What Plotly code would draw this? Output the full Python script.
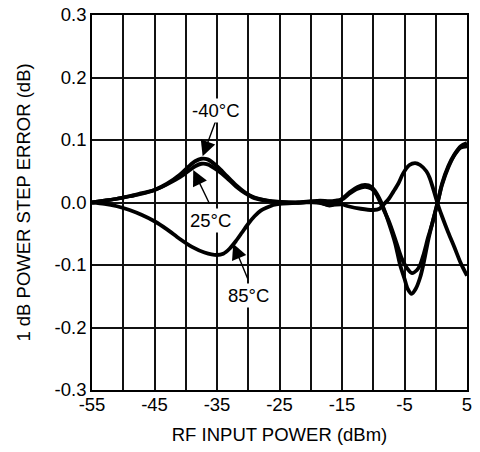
import plotly.graph_objects as go

# ---- data ----
x_m40 = [-55, -53, -51, -49, -47, -45, -43, -41, -39.6, -38.5, -37.5, -36.5, -35, -33.5, -32, -30.5, -29, -27, -25,
         -22, -20, -18.5, -17, -16, -15, -13.7, -12.5, -11.3, -10.3, -9.5, -8.5, -7.5, -6.5, -5.7, -5, -4.5, -3.85,
         -3.2, -2.5, -2, -1.2, -0.6, 0.3, 1, 2, 3, 4, 5]
y_m40 = [0.0, 0.003, 0.006, 0.010, 0.014, 0.020, 0.030, 0.044, 0.057, 0.066, 0.070, 0.069, 0.058, 0.043, 0.028, 0.016,
         0.008, 0.003, 0.001, 0.0, 0.001, 0.0, -0.005, -0.001, 0.006, 0.017, 0.025, 0.028, 0.025, 0.015, -0.005,
         -0.033, -0.065, -0.100, -0.122, -0.138, -0.146, -0.138, -0.120, -0.100, -0.060, -0.035, 0.0, 0.030, 0.058,
         0.077, 0.090, 0.095]

x_25 = [-55, -53, -51, -49, -47, -45, -43, -41, -39.6, -38.5, -37.5, -36.5, -35, -33.5, -32, -30.5, -29, -27, -25,
        -22, -20, -18.5, -17, -16, -15, -13.7, -12.5, -11.3, -10.3, -9.5, -8.5, -7.5, -6.5, -5.5, -4.6, -3.8,
        -3, -2.5, -2, -1.2, -0.6, 0.3, 1, 2, 3, 4, 5]
y_25 = [0.0, 0.003, 0.006, 0.010, 0.015, 0.020, 0.029, 0.040, 0.050, 0.058, 0.062, 0.061, 0.052, 0.040, 0.026, 0.015,
        0.007, 0.003, 0.001, 0.0, 0.002, 0.003, 0.002, 0.003, 0.005, 0.015, 0.022, 0.025, 0.022, 0.013, -0.008,
        -0.030, -0.058, -0.088, -0.105, -0.113, -0.108, -0.100, -0.085, -0.055, -0.035, 0.0, 0.028, 0.056, 0.076,
        0.088, 0.090]

x_85 = [-55, -53, -51, -49, -47, -45, -43, -41, -39, -37, -35, -34, -33, -32, -31, -30, -29, -28, -27, -26, -25,
        -23, -21, -19, -17, -15, -14, -12, -10, -9, -8.4, -7.5, -6.8, -6, -5.2, -4.2, -3.3, -2.5, -1.5, -1, -0.5,
        0, 0.5, 1, 2, 3, 4, 5]
y_85 = [0.0, -0.002, -0.006, -0.012, -0.020, -0.030, -0.043, -0.058, -0.071, -0.080, -0.084, -0.082, -0.074, -0.062,
        -0.048, -0.034, -0.022, -0.013, -0.008, -0.004, -0.002, -0.001, 0.0, 0.0, -0.004, -0.003, -0.006, -0.010,
        -0.012, -0.010, -0.004, 0.006, 0.017, 0.030, 0.047, 0.060, 0.063, 0.060, 0.050, 0.040, 0.025, 0.008,
        -0.008, -0.022, -0.048, -0.072, -0.097, -0.117]

x_ticks = [-55, -45, -35, -25, -15, -5, 5]
y_ticks = [-0.3, -0.2, -0.1, 0.0, 0.1, 0.2, 0.3]

FONT = "Liberation Sans, Arial, Helvetica, sans-serif"
FS = 18.5

fig = go.Figure()
for xs, ys in [(x_85, y_85), (x_25, y_25), (x_m40, y_m40)]:
    fig.add_trace(go.Scatter(x=xs, y=ys, mode="lines",
                             line=dict(color="black", width=3.8, shape="spline", smoothing=0.8),
                             showlegend=False, hoverinfo="skip"))

grid_col = "#111111"
fig.update_xaxes(range=[-55, 5], tickvals=x_ticks, ticktext=[str(v) for v in x_ticks],
                 showgrid=True, gridcolor=grid_col, gridwidth=1.7,
                 minor=dict(tick0=-55, dtick=5, showgrid=True, gridcolor=grid_col, gridwidth=1.7),
                 showline=True, linecolor="black", linewidth=1.7, mirror=True,
                 ticks="", automargin=False, ticklabeloverflow="allow", ticklabelstandoff=-3,
                 zeroline=False, tickfont=dict(family=FONT, size=FS, color="black"),
                 title=dict(text="RF INPUT POWER (dBm)", font=dict(family=FONT, size=FS, color="black"), standoff=14))
fig.update_yaxes(range=[-0.3, 0.3], tickvals=y_ticks, ticktext=[f"{v:.1f}" for v in y_ticks],
                 showgrid=True, gridcolor=grid_col, gridwidth=1.7,
                 showline=True, linecolor="black", linewidth=1.7, mirror=True,
                 ticks="", automargin=False, ticklabeloverflow="allow",
                 zeroline=False, tickfont=dict(family=FONT, size=FS, color="black"),
                 title=dict(text="1 dB POWER STEP ERROR (dB)", font=dict(family=FONT, size=FS, color="black"),
                            standoff=19))

labels = [
    ("-40°C", -35.2, 0.148, -37.3, 0.074, -35.0, 0.136),
    ("25°C", -36.0, -0.028, -38.8, 0.052, -36.1, -0.004),
    ("85°C", -29.9, -0.148, -32.4, -0.066, -30.0, -0.124),
]
for txt, tx, ty, hx, hy, ax_, ay_ in labels:
    fig.add_annotation(x=hx, y=hy, ax=ax_, ay=ay_, axref="x", ayref="y", xref="x", yref="y",
                       text="", showarrow=True, arrowhead=2, arrowsize=2.2, arrowwidth=1.4, arrowcolor="black")
    fig.add_annotation(x=tx, y=ty, xref="x", yref="y", text=txt, showarrow=False,
                       font=dict(family=FONT, size=FS, color="black"), bgcolor="white", borderpad=1)

fig.update_layout(width=480, height=452, margin=dict(l=92, r=13, t=15, b=62),
                  paper_bgcolor="white", plot_bgcolor="white")
# remove the browser's default 8 px body margin so the figure sits at the window origin
fig.write_html("out.html", config={"displayModeBar": False},
               post_script="document.body.style.margin='0';document.body.style.overflow='hidden';")
